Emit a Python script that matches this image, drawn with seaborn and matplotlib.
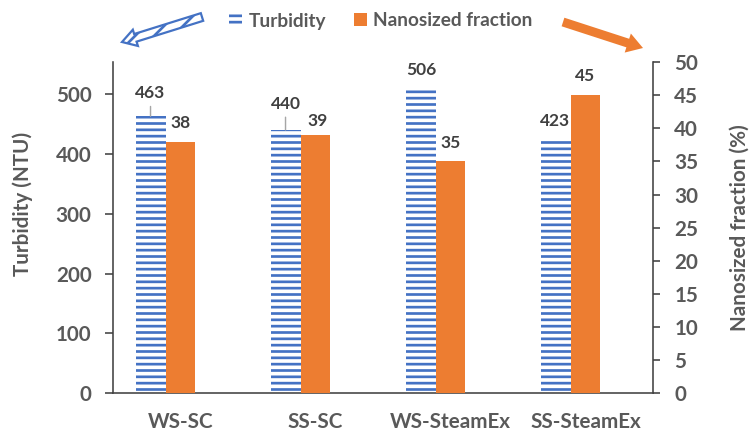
import matplotlib
matplotlib.use("Agg")
import matplotlib.pyplot as plt
import pandas as pd
import seaborn as sns
from matplotlib.patches import Patch, FancyArrow
from matplotlib.transforms import IdentityTransform

# ---- data ----
categories = ["WS-SC", "SS-SC", "WS-SteamEx", "SS-SteamEx"]
turbidity = [463, 440, 506, 423]          # NTU
nanosized = [38, 39, 35, 45]              # %
turbidity_ticks = [0, 100, 200, 300, 400, 500]
nano_ticks = [0, 5, 10, 15, 20, 25, 30, 35, 40, 45, 50]

# ---- style ----
BLUE = "#4472C4"
ORANGE = "#ED7D31"
GRAY = "#595959"
DARK = "#404040"
DPI = 114
W, H = 752, 435

sns.set_theme(style="white")
plt.rcParams["font.family"] = ["Lato", "DejaVu Sans"]
plt.rcParams["hatch.linewidth"] = 1.7

fig = plt.figure(figsize=(W / DPI, H / DPI), dpi=DPI)
ax1 = fig.add_axes([113 / W, 1 - 393.3 / H, 540 / W, 331.3 / H])
ax2 = ax1.twinx()

df = pd.DataFrame({"category": categories,
                   "turbidity": turbidity,
                   "nanosized": nanosized})

bw = 0.222
sns.barplot(data=df, x="category", y="turbidity", ax=ax1, width=bw,
            color="white", errorbar=None, saturation=1)
for p in ax1.patches:
    p.set_x(p.get_x() - bw)
    p.set_facecolor("white")
    p.set_edgecolor(BLUE)
    p.set_hatch("---")
    p.set_linewidth(0)

sns.barplot(data=df, x="category", y="nanosized", ax=ax2, width=bw,
            color=ORANGE, errorbar=None, saturation=1, linewidth=0)

ax1.set_xlim(-0.5, 3.5)
ax1.set_ylim(0, 553.6)
ax2.set_ylim(0, 50)
ax1.set_yticks(turbidity_ticks)
ax2.set_yticks(nano_ticks)
ax1.set_xlabel("")
ax2.set_xlabel("")

# value labels (offsets in pixels relative to bar top centre)
turb_offsets = [(0, 23), (0, 26), (0.5, 20), (0, 19)]
turb_leader = [True, True, False, False]
nano_offsets = [(0, 18.7), (2, 13.6), (0, 18.6), (0, 19)]
label_font = dict(fontsize=11, fontweight="bold", color=DARK)

for p, v, off, lead in zip(ax1.patches, turbidity, turb_offsets, turb_leader):
    xc = p.get_x() + p.get_width() / 2
    kw = {}
    if lead:
        kw["arrowprops"] = dict(arrowstyle="-", color="#A6A6A6", lw=0.9,
                                shrinkA=1, shrinkB=0)
    ax2.annotate(f"{v}", xy=(xc, v), xycoords=ax1.transData,
                 xytext=off, textcoords="offset pixels",
                 ha="center", va="center", **label_font, **kw)

for p, v, off in zip(ax2.patches, nanosized, nano_offsets):
    xc = p.get_x() + p.get_width() / 2
    ax2.annotate(f"{v}", xy=(xc, v), xycoords=ax2.transData,
                 xytext=off, textcoords="offset pixels",
                 ha="center", va="center", **label_font)

# spines and ticks
for ax in (ax1, ax2):
    for s in ax.spines.values():
        s.set_visible(False)
ax1.spines["left"].set_visible(True)
ax1.spines["bottom"].set_visible(True)
ax2.spines["right"].set_visible(True)
for s in (ax1.spines["left"], ax1.spines["bottom"], ax2.spines["right"]):
    s.set_color(DARK)
    s.set_linewidth(1.0)

tick_font = dict(labelsize=13, labelcolor=GRAY)
ax1.tick_params(axis="y", left=True, direction="out", length=5, width=1.0,
                color=DARK, pad=8.5, **tick_font)
ax2.tick_params(axis="y", right=True, direction="out", length=4.5, width=1.0,
                color=DARK, pad=9, **tick_font)
ax1.tick_params(axis="x", bottom=False, length=0, pad=12, **tick_font)
for lab in ax1.get_xticklabels() + ax1.get_yticklabels() + ax2.get_yticklabels():
    lab.set_fontweight("bold")

ax1.set_ylabel("Turbidity (NTU)", fontsize=13, fontweight="bold", color=GRAY)
ax1.yaxis.label.set_verticalalignment("center")
ax1.yaxis.set_label_coords(-0.1667, 0.571)
ax2.set_ylabel("Nanosized fraction (%)", fontsize=13, fontweight="bold",
               color=GRAY, rotation=90)
ax2.yaxis.label.set_verticalalignment("center")
ax2.yaxis.set_label_coords(1.161, 0.5)

# legend
handles = [Patch(facecolor="white", edgecolor=BLUE, hatch="---", lw=0,
                 label="Turbidity"),
           Patch(facecolor=ORANGE, edgecolor="none", label="Nanosized fraction")]
fig.legend(handles=handles, loc="center", bbox_to_anchor=(381 / W, 1 - 21 / H),
           ncol=2, frameon=False, prop=dict(size=12, weight="bold"),
           labelcolor=GRAY, handlelength=0.68, handleheight=0.68,
           handletextpad=0.32, columnspacing=1.5)

# axis direction arrows
left_arrow = FancyArrow(202, 418, -80, -25, width=8, head_width=17,
                        head_length=14, length_includes_head=True,
                        transform=IdentityTransform(), facecolor="white",
                        edgecolor=BLUE, hatch="//", lw=1.4)
right_arrow = FancyArrow(563, 413, 80, -26, width=9, head_width=20,
                         head_length=16, length_includes_head=True,
                         transform=IdentityTransform(), facecolor=ORANGE,
                         edgecolor="none", lw=0)
fig.add_artist(left_arrow)
fig.add_artist(right_arrow)

fig.savefig("out.png", dpi=DPI)
